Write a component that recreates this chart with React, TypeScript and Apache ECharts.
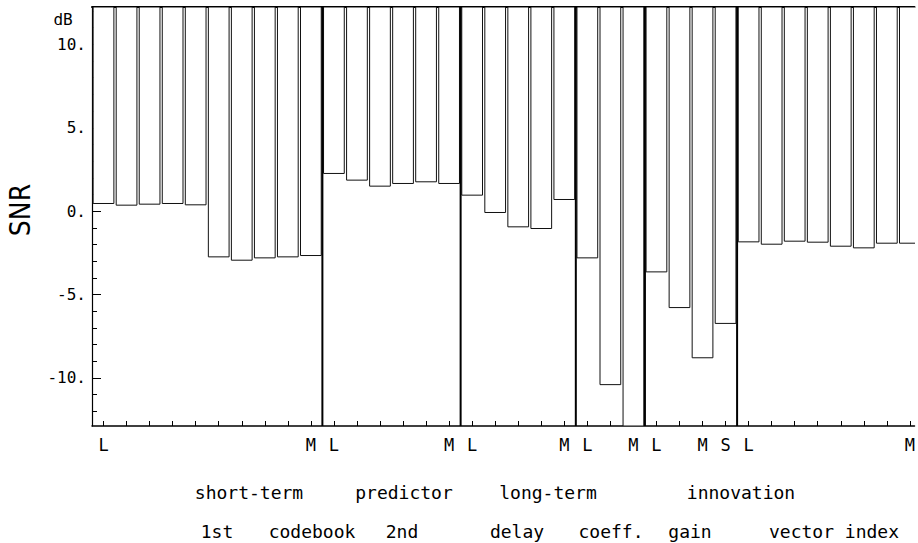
import React, { useEffect, useRef } from "react";
import * as echarts from "echarts";

// ---- data ----
const categories: string[] = [
  "L", "", "", "", "", "", "", "", "", "M",
  "L", "", "", "", "", "M",
  "L", "", "", "", "M",
  "L", "", "M",
  "L", "", "M", "S",
  "L", "", "", "", "", "", "", "M",
];
const snrValues: number[] = [
  0.46, 0.36, 0.42, 0.46, 0.38, -2.74, -2.94, -2.8, -2.74, -2.66,
  2.26, 1.86, 1.5, 1.66, 1.76, 1.66,
  0.96, -0.08, -0.94, -1.04, 0.7,
  -2.8, -10.4, -14.0,
  -3.64, -5.78, -8.79, -6.73,
  -1.84, -1.98, -1.8, -1.86, -2.1, -2.2, -1.92, -1.92,
];
const groupStarts: number[] = [10, 16, 21, 24, 28];
const yTickLabels: number[] = [-10, -5, 0, 5, 10];
const yMinorTicks: number[] = [-12, -11, -10, -9, -8, -7, -6, -5, -4, -3, -2, -1, 0, 1, 2, 3, 4, 5, 6, 7, 8, 9, 10, 11, 12];
const rowOneLabels: string[] = ["short-term", "predictor", "long-term", "innovation"];
const rowTwoLabels: string[] = ["1st", "codebook", "2nd", "delay", "coeff.", "gain", "vector index"];

// ---- layout ----
const Y_MIN = -12.88;
const Y_MAX = 12.24;
const X_MAX = 35.7;
const GAP = 0.05;
const MONO = "'DejaVu Sans Mono', 'Liberation Mono', monospace";
const rowOneX = [249, 404, 548, 741];
const rowTwoX = [217, 312, 402, 517, 611, 690, 834];

export default function App() {
  const ref = useRef<HTMLDivElement>(null);
  useEffect(() => {
    if (!ref.current) return;
    const chart = echarts.init(ref.current, null, { renderer: "svg" });
    const tickCenters = categories.map((_, i) => i + 0.5);
    const labelCenters = categories
      .map((c, i) => (c ? i + 0.5 : -1))
      .filter((v) => v >= 0);

    const graphic: any[] = [
      {
        type: "text",
        x: 63,
        y: 19,
        style: { text: "dB", font: `16px ${MONO}`, fill: "#000", align: "center", verticalAlign: "middle" },
      },
      {
        type: "text",
        x: 20,
        y: 210,
        rotation: Math.PI / 2,
        style: {
          text: "SNR",
          font: "28px 'Liberation Sans Narrow', 'DejaVu Sans Condensed', 'Liberation Sans', sans-serif",
          fill: "#000",
          align: "center",
          verticalAlign: "middle",
        },
      },
    ];
    rowOneLabels.forEach((t, k) =>
      graphic.push({
        type: "text",
        x: rowOneX[k],
        y: 492,
        style: { text: t, font: `18px ${MONO}`, fill: "#000", align: "center", verticalAlign: "middle" },
      })
    );
    rowTwoLabels.forEach((t, k) =>
      graphic.push({
        type: "text",
        x: rowTwoX[k],
        y: 531,
        style: { text: t, font: `18px ${MONO}`, fill: "#000", align: "center", verticalAlign: "middle" },
      })
    );

    chart.setOption({
      animation: false,
      backgroundColor: "#fff",
      grid: { left: 92, right: 0, top: 7, bottom: 117, containLabel: false },
      xAxis: [
        {
          type: "value",
          min: 0,
          max: X_MAX,
          splitLine: { show: false },
          axisLine: { show: true, onZero: false, lineStyle: { color: "#000", width: 1.5 } },
          axisTick: { show: true, inside: true, length: 5, customValues: tickCenters, lineStyle: { color: "#000" } },
          axisLabel: {
            show: true,
            customValues: labelCenters,
            formatter: (v: number) => categories[Math.floor(v)] || "",
            fontFamily: MONO,
            fontSize: 17,
            color: "#000",
            margin: 10,
          },
        },
        {
          type: "value",
          position: "top",
          min: 0,
          max: X_MAX,
          splitLine: { show: false },
          axisLine: { show: true, onZero: false, lineStyle: { color: "#000", width: 2 } },
          axisTick: { show: false },
          axisLabel: { show: false },
        },
      ],
      yAxis: [
        {
          type: "value",
          min: Y_MIN,
          max: Y_MAX,
          splitLine: { show: false },
          axisLine: { show: true, onZero: false, lineStyle: { color: "#000", width: 1.2 } },
          axisTick: { show: true, inside: true, length: 5, customValues: yMinorTicks, lineStyle: { color: "#000" } },
          axisLabel: {
            show: true,
            customValues: yTickLabels,
            formatter: (v: number) => `${v}.`,
            fontFamily: MONO,
            fontSize: 16,
            color: "#000",
            margin: 6,
          },
        },
        {
          type: "value",
          min: Y_MIN,
          max: Y_MAX,
          position: "left",
          splitLine: { show: false },
          axisLine: { show: false, onZero: false },
          axisTick: { show: true, inside: true, length: 9, customValues: yTickLabels, lineStyle: { color: "#000" } },
          axisLabel: { show: false },
        },
      ],
      series: [
        {
          type: "custom",
          name: "SNR",
          xAxisIndex: 0,
          yAxisIndex: 0,
          clip: true,
          encode: { x: 0, y: 1 },
          data: snrValues.map((v, i) => [i, v]),
          renderItem: (params: any, api: any) => {
            const i = api.value(0);
            const v = api.value(1);
            const p0 = api.coord([i + GAP, Y_MAX]);
            const p1 = api.coord([i + 1 - GAP, Math.max(v, Y_MIN)]);
            return {
              type: "rect",
              shape: { x: p0[0], y: p0[1], width: p1[0] - p0[0], height: p1[1] - p0[1] },
              style: { fill: "#fff", stroke: "#111", lineWidth: 1 },
            };
          },
        },
        {
          type: "custom",
          name: "groups",
          xAxisIndex: 0,
          yAxisIndex: 0,
          clip: true,
          encode: { x: 0, y: 1 },
          data: groupStarts.map((b) => [b, Y_MIN]),
          renderItem: (params: any, api: any) => {
            const b = api.value(0);
            const a = api.coord([b, Y_MIN]);
            const c = api.coord([b, Y_MAX]);
            return {
              type: "line",
              shape: { x1: a[0], y1: a[1], x2: c[0], y2: c[1] },
              style: { stroke: "#000", lineWidth: 2 },
            };
          },
        },
      ],
      graphic,
    });
    return () => chart.dispose();
  }, []);
  return (
    <div
      ref={ref}
      style={{ position: "absolute", left: 0, top: 0, width: 918, height: 543, background: "#fff" }}
    />
  );
}
